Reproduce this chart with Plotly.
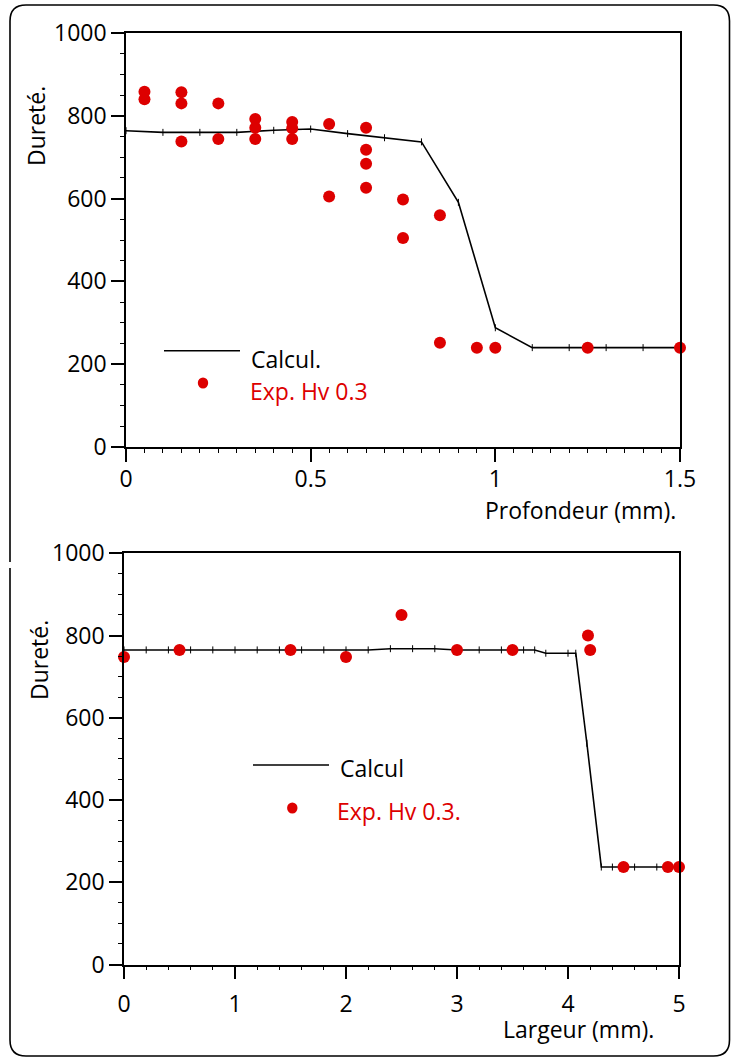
import plotly.graph_objects as go

# ---------------- data ----------------
# Top chart: hardness vs depth
calc_top_x = [0.0, 0.1, 0.2, 0.3, 0.4, 0.5, 0.6, 0.7, 0.8, 0.9, 1.0, 1.1, 1.2, 1.3, 1.4, 1.5]
calc_top_y = [764, 760, 760, 760, 765, 768, 757, 747, 737, 591, 288, 240, 240, 240, 240, 240]

exp_top_x = [0.05, 0.05,
             0.15, 0.15, 0.15,
             0.25, 0.25,
             0.35, 0.35, 0.35,
             0.45, 0.45, 0.45,
             0.55, 0.55,
             0.65, 0.65, 0.65, 0.65,
             0.75, 0.75,
             0.85, 0.85,
             0.95, 1.0, 1.25, 1.5]
exp_top_y = [858, 840,
             857, 830, 738,
             830, 744,
             792, 771, 744,
             785, 770, 744,
             780, 605,
             771, 718, 684, 626,
             598, 505,
             560, 252,
             240, 240, 240, 240]

# Bottom chart: hardness vs width
calc_bot_x = [0.0, 0.2, 0.4, 0.6, 0.8, 1.0, 1.2, 1.4, 1.6, 1.8, 2.0, 2.2, 2.4, 2.6, 2.8,
              3.0, 3.2, 3.4, 3.6, 3.7, 3.8, 4.0, 4.07, 4.17, 4.3, 4.4, 4.6, 4.8, 5.0]
calc_bot_y = [765, 765, 765, 765, 765, 765, 765, 765, 765, 765, 765, 765, 768, 768, 768,
              765, 765, 765, 765, 765, 757, 757, 757, 538, 237, 237, 237, 237, 237]

exp_bot_x = [0.0, 0.5, 1.5, 2.0, 2.5, 3.0, 3.5, 4.18, 4.2, 4.5, 4.9, 5.0]
exp_bot_y = [748, 765, 765, 748, 850, 765, 765, 800, 765, 237, 237, 237]

top_xticks = [0, 0.5, 1, 1.5]
top_xticklabels = ["0", "0.5", "1", "1.5"]
bot_xticks = [0, 1, 2, 3, 4, 5]
bot_xticklabels = ["0", "1", "2", "3", "4", "5"]
yticks = [0, 200, 400, 600, 800, 1000]
yticklabels = ["0", "200", "400", "600", "800", "1000"]

y_title = "Dureté."
top_x_title = "Profondeur (mm)."
bot_x_title = "Largeur (mm)."
legend_calc_top = "Calcul."
legend_exp_top = "Exp. Hv 0.3"
legend_calc_bot = "Calcul"
legend_exp_bot = "Exp. Hv 0.3."

# ---------------- styling ----------------
W, H = 731, 1058
RED = "#DD0000"
FONT = "Open Sans"
FS = 23


def px(x):
    return x / W


def py(y):
    return 1 - y / H


fig = go.Figure()

line_style = dict(color="black", width=1.6)
tick_marker = dict(symbol="line-ns", size=5, line=dict(color="black", width=1), color="black")
dot_marker = dict(symbol="circle", size=12, color=RED, line=dict(width=0))

fig.add_trace(go.Scatter(x=calc_top_x, y=calc_top_y, mode="lines+markers", line=line_style,
                         marker=tick_marker, xaxis="x", yaxis="y", showlegend=False, cliponaxis=False))
fig.add_trace(go.Scatter(x=exp_top_x, y=exp_top_y, mode="markers", marker=dot_marker,
                         xaxis="x", yaxis="y", showlegend=False, cliponaxis=False))
fig.add_trace(go.Scatter(x=calc_bot_x, y=calc_bot_y, mode="lines+markers", line=line_style,
                         marker=tick_marker, xaxis="x2", yaxis="y2", showlegend=False, cliponaxis=False))
fig.add_trace(go.Scatter(x=exp_bot_x, y=exp_bot_y, mode="markers", marker=dot_marker,
                         xaxis="x2", yaxis="y2", showlegend=False, cliponaxis=False))

axis_common = dict(
    showline=True, linecolor="black", linewidth=1.6, mirror=True,
    ticks="outside", ticklen=13, tickwidth=1.6, tickcolor="black",
    showgrid=False, zeroline=False, automargin=False,
    tickfont=dict(family=FONT, size=FS, color="black"),
)

fig.update_layout(
    template="none",
    width=W, height=H, autosize=False,
    margin=dict(l=0, r=0, t=0, b=0, pad=0),
    paper_bgcolor="white", plot_bgcolor="white",
    font=dict(family=FONT, size=FS, color="black"),
    hovermode=False,
    xaxis=dict(domain=[px(126), px(680)], range=[0, 1.5], anchor="y",
               tickvals=top_xticks, ticktext=top_xticklabels,
               minor=dict(dtick=0.05, ticks="outside", ticklen=4, tickwidth=1.2, tickcolor="black"),
               ticklabelstandoff=-2, **axis_common),
    yaxis=dict(domain=[py(447), py(33)], range=[0, 1000], anchor="x",
               tickvals=yticks, ticktext=yticklabels,
               minor=dict(dtick=50, ticks="outside", ticklen=4, tickwidth=1.2, tickcolor="black"),
               **axis_common),
    xaxis2=dict(domain=[px(124), px(679)], range=[0, 5], anchor="y2",
                tickvals=bot_xticks, ticktext=bot_xticklabels,
                minor=dict(dtick=0.2, ticks="outside", ticklen=4, tickwidth=1.2, tickcolor="black"),
                ticklabelstandoff=5, **axis_common),
    yaxis2=dict(domain=[py(964.5), py(553.3)], range=[0, 1000], anchor="x2",
                tickvals=yticks, ticktext=yticklabels,
                minor=dict(dtick=50, ticks="outside", ticklen=4, tickwidth=1.2, tickcolor="black"),
                **axis_common),
)

annotations = []


def add_text(text, x, y, color="black", xanchor="left", textangle=0):
    annotations.append(dict(text=text, x=px(x), y=py(y), xref="paper", yref="paper",
                            xanchor=xanchor, yanchor="middle", showarrow=False,
                            textangle=textangle,
                            font=dict(family=FONT, size=FS, color=color)))


# axis titles
add_text(y_title, 36, 126, xanchor="center", textangle=-90)
add_text(y_title, 39, 660, xanchor="center", textangle=-90)
add_text(top_x_title, 678, 510, xanchor="right")
add_text(bot_x_title, 656, 1029, xanchor="right")

# legends
add_text(legend_calc_top, 249, 359)
add_text(legend_exp_top, 248, 391, color=RED)
add_text(legend_calc_bot, 338, 768)
add_text(legend_exp_bot, 335, 811, color=RED)

shapes = []
# legend line samples
shapes.append(dict(type="line", xref="paper", yref="paper", x0=px(164), x1=px(240), y0=py(350.7), y1=py(350.7),
                   line=dict(color="black", width=1.6)))
shapes.append(dict(type="line", xref="paper", yref="paper", x0=px(253), x1=px(329), y0=py(765), y1=py(765),
                   line=dict(color="black", width=1.6)))
# legend dots
for cx, cy in [(203, 383), (292.3, 808)]:
    shapes.append(dict(type="circle", xref="paper", yref="paper",
                       x0=px(cx - 5.2), x1=px(cx + 5.2), y0=py(cy + 5.5), y1=py(cy - 5.5),
                       fillcolor=RED, line=dict(width=0)))

# rounded outer frame (with small gap on left edge)
L, T, R, B, r = 10, 5, 729.5, 1056, 16
p = lambda x, y: f"{px(x):.5f},{py(y):.5f}"
path = (f"M {p(L, 562)} L {p(L, T + r)} Q {p(L, T)} {p(L + r, T)} L {p(R - r, T)} Q {p(R, T)} {p(R, T + r)} "
        f"L {p(R, B - r)} Q {p(R, B)} {p(R - r, B)} L {p(L + r, B)} Q {p(L, B)} {p(L, B - r)} L {p(L, 568)}")
shapes.append(dict(type="path", xref="paper", yref="paper", path=path, line=dict(color="black", width=1.6)))

fig.update_layout(annotations=annotations, shapes=shapes)

post = ("document.documentElement.style.margin='0';document.documentElement.style.padding='0';"
        "document.documentElement.style.overflow='hidden';"
        "document.body.style.margin='0';document.body.style.padding='0';document.body.style.overflow='hidden';"
        "var d=document.getElementById('{plot_id}');d.style.position='fixed';d.style.left='0px';d.style.top='0px';")

fig.write_html("out.html", config={"displayModeBar": False}, post_script=post)
